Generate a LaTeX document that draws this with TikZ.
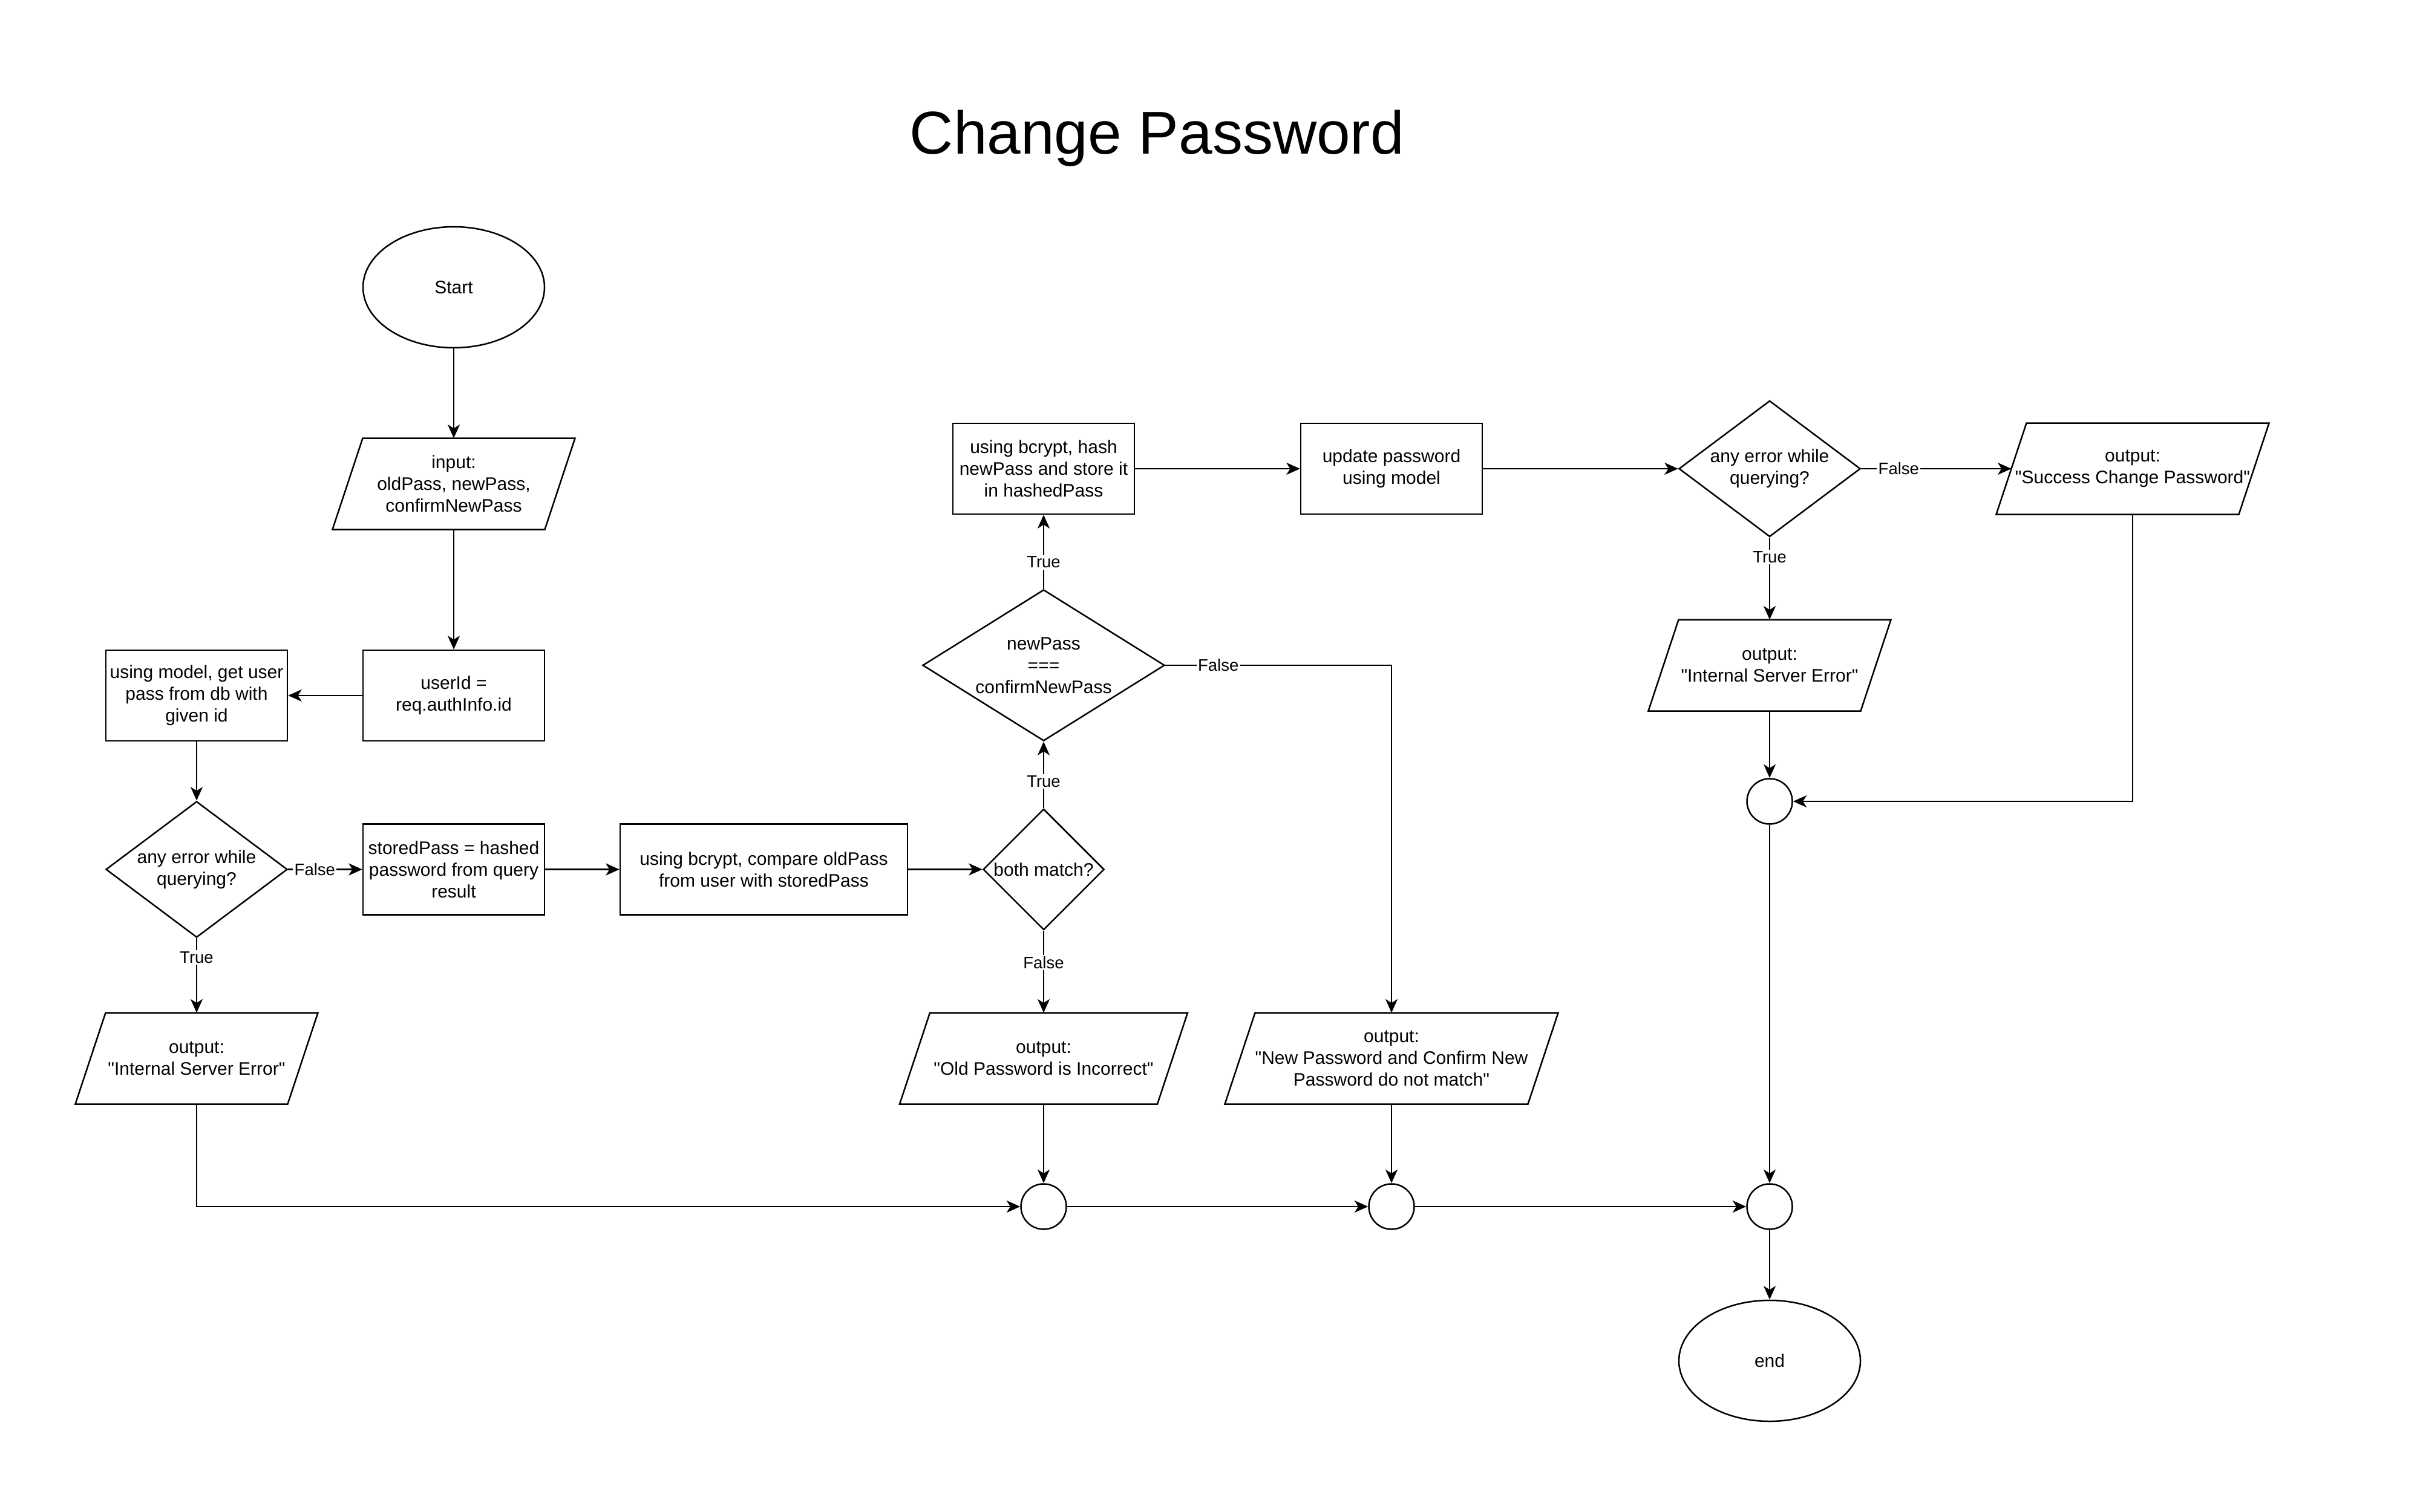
\documentclass[tikz,border=0pt]{standalone}
\usepackage{fontspec}
\setmainfont{Liberation Sans}[Ligatures=TeXOff]
\usetikzlibrary{shapes.geometric, arrows.meta}

\newcommand{\flowfont}{\fontsize{12}{14.4}\selectfont}
\newcommand{\edgefont}{\fontsize{11}{13.2}\selectfont}

\tikzset{
  base/.style={draw, line width=1pt, align=center, inner sep=0pt, font=\flowfont},
  box/.style={base, rectangle, minimum width=120pt, minimum height=60pt},
  term/.style={base, ellipse, minimum width=120pt, minimum height=80pt},
  decide/.style={base, diamond, shape aspect=1.333, minimum width=120pt, minimum height=90pt},
  joint/.style={base, circle, minimum size=30pt},
  io/.style={align=center, inner sep=0pt, font=\flowfont, minimum width=160pt, minimum height=60pt},
  arr/.style={-{Stealth[length=9pt, width=8pt, inset=2.5pt]}, line width=1pt},
  lbl/.style={fill=white, font=\edgefont, inner sep=1pt},
}

\begin{document}
\begin{tikzpicture}[x=1pt, y=-1pt]
\useasboundingbox (0,0) rectangle (1600,1000);

\node[anchor=base, font=\fontsize{40}{48}\selectfont] (title) at (765,102) {Change Password};

% left column
\node[term] (start) at (300,190) {Start};
\node[io] (inp) at (300,320) {input:\\oldPass, newPass,\\confirmNewPass};
\node[box] (uid) at (300,460) {userId =\\req.authInfo.id};
\node[box] (model) at (130,460) {using model, get user\\pass from db with\\given id};
\node[decide] (err1) at (130,575) {any error while\\querying?};
\node[box] (stored) at (300,575) {storedPass = hashed\\password from query\\result};
\node[io] (ise1) at (130,700) {output:\\"Internal Server Error"};

% middle
\node[box, minimum width=190pt] (cmp) at (505,575) {using bcrypt, compare oldPass\\from user with storedPass};
\node[decide, shape aspect=1, minimum width=80pt, minimum height=80pt] (match) at (690,575) {both match?};
\node[decide, shape aspect=1.6, minimum width=160pt, minimum height=100pt] (same) at (690,440) {newPass\\===\\confirmNewPass};
\node[box] (hash) at (690,310) {using bcrypt, hash\\newPass and store it\\in hashedPass};
\node[box] (upd) at (920,310) {update password\\using model};
\node[io, minimum width=190pt] (oldout) at (690,700) {output:\\"Old Password is Incorrect"};
\node[io, minimum width=220pt] (newout) at (920,700) {output:\\"New Password and Confirm New\\Password do not match"};

% right
\node[decide] (err2) at (1170,310) {any error while\\querying?};
\node[io, minimum width=180pt] (succ) at (1410,310) {output:\\"Success Change Password"};
\node[io] (ise2) at (1170,440) {output:\\"Internal Server Error"};
\node[joint] (j1) at (1170,530) {};

% merge points
\node[joint] (j2) at (690,798) {};
\node[joint] (j3) at (920,798) {};
\node[joint] (j4) at (1170,798) {};
\node[term] (stop) at (1170,900) {end};

% slanted outlines for input/output
\foreach \n in {inp,ise1,ise2,oldout,newout,succ}
  \draw[line width=1pt] ([xshift=20pt]\n.north west) -- (\n.north east)
    -- ([xshift=-20pt]\n.south east) -- (\n.south west) -- cycle;

% connectors
\draw[arr] (start) -- (inp);
\draw[arr] (inp) -- (uid);
\draw[arr] (uid) -- (model);
\draw[arr] (model) -- (err1);
\draw[arr] (err1) -- node[lbl, pos=0.36] {False} (stored);
\draw[arr] (err1) -- node[lbl, pos=0.26] {True} (ise1);
\draw[arr] (stored) -- (cmp);
\draw[arr] (cmp) -- (match);
\draw[arr] (match) -- node[lbl, pos=0.4] {True} (same);
\draw[arr] (match) -- node[lbl, pos=0.39] {False} (oldout);
\draw[arr] (same) -- node[lbl, pos=0.36] {True} (hash);
\draw[arr] (same) -| node[lbl, pos=0.117] {False} (newout);
\draw[arr] (hash) -- (upd);
\draw[arr] (upd) -- (err2);
\draw[arr] (err2) -- node[lbl, pos=0.25] {False} ([xshift=10pt]succ.west);
\draw[arr] (err2) -- node[lbl, pos=0.24] {True} (ise2);
\draw[arr] (ise2) -- (j1);
\draw[arr] (succ) |- (j1);
\draw[arr] (j1) -- (j4);
\draw[arr] (ise1) |- (j2);
\draw[arr] (oldout) -- (j2);
\draw[arr] (j2) -- (j3);
\draw[arr] (newout) -- (j3);
\draw[arr] (j3) -- (j4);
\draw[arr] (j4) -- (stop);
\end{tikzpicture}
\end{document}
